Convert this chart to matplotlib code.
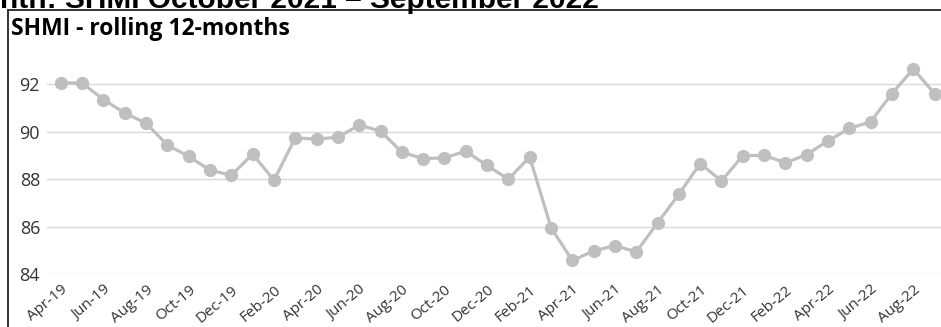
import matplotlib
matplotlib.use("Agg")
import matplotlib.pyplot as plt
from matplotlib.patches import Rectangle

# monthly rolling 12-month SHMI, Apr-19 .. Sep-22
months = ["Apr-19", "May-19", "Jun-19", "Jul-19", "Aug-19", "Sep-19", "Oct-19", "Nov-19",
          "Dec-19", "Jan-20", "Feb-20", "Mar-20", "Apr-20", "May-20", "Jun-20", "Jul-20",
          "Aug-20", "Sep-20", "Oct-20", "Nov-20", "Dec-20", "Jan-21", "Feb-21", "Mar-21",
          "Apr-21", "May-21", "Jun-21", "Jul-21", "Aug-21", "Sep-21", "Oct-21", "Nov-21",
          "Dec-21", "Jan-22", "Feb-22", "Mar-22", "Apr-22", "May-22", "Jun-22", "Jul-22",
          "Aug-22", "Sep-22"]
shmi = [92.05, 92.04, 91.34, 90.78, 90.35, 89.43, 88.95, 88.37,
        88.16, 89.05, 87.95, 89.73, 89.68, 89.76, 90.27, 90.02,
        89.13, 88.86, 88.89, 89.17, 88.57, 87.99, 88.93, 85.95,
        84.57, 84.97, 85.20, 84.93, 86.15, 87.36, 88.65, 87.92,
        88.98, 89.00, 88.68, 89.03, 89.61, 90.13, 90.41, 91.60,
        92.63, 91.60]
yticks = [84, 86, 88, 90, 92]

W, H = 941, 327
fig = plt.figure(figsize=(W / 100, H / 100), dpi=100)

# cropped page heading (cut at the top, as in the screenshot)
fig.text(0 / W, 1 - 8 / H, "nth: SHMI October 2021 \u2013 September 2022",
         fontsize=21.5, fontweight="bold", family="Liberation Sans",
         ha="left", va="baseline", color="black")

# chart frame (cut off at the right and bottom)
fig.patches.append(Rectangle((8 / W, -0.1), 1.2, 1 - 10 / H + 0.1,
                             transform=fig.transFigure, fill=False,
                             edgecolor="#333333", linewidth=1.4))

fig.text(11 / W, 1 - 29 / H, "SHMI - rolling 12-months", fontsize=16.5,
         fontweight="bold", family="Open Sans", ha="left", va="center", color="black")

ax = fig.add_axes([47 / W, 53 / H, (941 - 47) / W, (0.6536 * H) / H])
x = list(range(len(months)))
ax.plot(x, shmi, color="#BFBFBF", linewidth=2.3, marker="o", markersize=8.5,
        markeredgecolor="#BFBFBF", markerfacecolor="#BFBFBF", zorder=3)

ax.set_xlim(-0.65, 41.3)
ax.set_ylim(84, 93)
ax.set_yticks(yticks)
ax.set_yticklabels([str(v) for v in yticks], family="Open Sans", fontsize=13, color="#333333")
ax.set_xticks(x[::2])
ax.set_xticklabels(months[::2], rotation=40, ha="right", rotation_mode="anchor",
                   family="Open Sans", fontsize=11, color="#333333")
ax.tick_params(axis="both", length=0)
ax.tick_params(axis="y", pad=5)
ax.tick_params(axis="x", pad=6)
ax.grid(axis="y", color="#D9D9D9", linewidth=1)
ax.set_axisbelow(True)
for s in ax.spines.values():
    s.set_visible(False)
ax.patch.set_alpha(0)

fig.savefig("out.png", dpi=100)
